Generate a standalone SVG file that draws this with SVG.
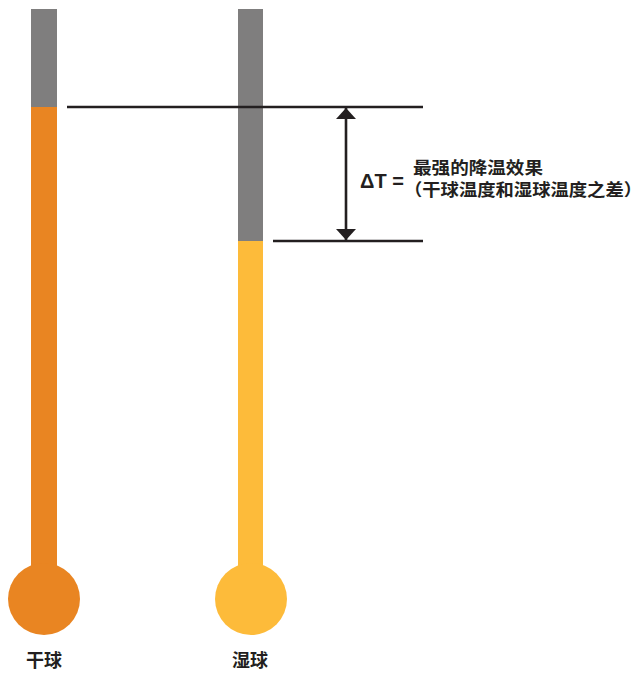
<svg xmlns="http://www.w3.org/2000/svg" width="633" height="673" viewBox="0 0 633 673">
<style>
.gray{fill:#7f7e7e}
.dry{fill:#e98522}
.wet{fill:#fdbb3a}
.ln{stroke:#231f20;stroke-width:2.6;fill:none}
.t{font-family:"Liberation Sans","Noto Sans CJK SC",sans-serif;font-weight:bold;fill:#231f20}
</style>
<defs>
<marker id="ah" viewBox="0 0 11 20" refX="11" refY="10" markerWidth="11" markerHeight="20" markerUnits="userSpaceOnUse" orient="auto-start-reverse">
<path d="M0,0 L11,10 L0,20 Z" fill="#231f20"/>
</marker>
</defs>
<rect width="633" height="673" fill="#fff"/>
<g id="dry-thermometer">
<rect class="gray" x="31" y="9" width="26" height="98"/>
<rect class="dry" x="31" y="107" width="26" height="470"/>
<circle class="dry" cx="44" cy="599" r="36"/>
<text class="t" x="44" y="667" font-size="18" text-anchor="middle">干球</text>
</g>
<g id="wet-thermometer">
<rect class="gray" x="238" y="9" width="25" height="232"/>
<rect class="wet" x="238" y="241" width="25" height="336"/>
<circle class="wet" cx="251" cy="599" r="36"/>
<text class="t" x="250" y="667" font-size="18" text-anchor="middle">湿球</text>
</g>
<g id="connectors">
<line class="ln" x1="67" y1="107" x2="423" y2="107"/>
<line class="ln" x1="273" y1="241" x2="423" y2="241"/>
<line class="ln" x1="346" y1="108" x2="346" y2="240" marker-start="url(#ah)" marker-end="url(#ah)"/>
</g>
<g id="label">
<text class="t" x="360" y="188" font-size="20">ΔT =</text>
<text class="t" x="413" y="174" font-size="17" textLength="130" lengthAdjust="spacingAndGlyphs">最强的降温效果</text>
<text class="t" x="404" y="196" font-size="17" textLength="238" lengthAdjust="spacingAndGlyphs">（干球温度和湿球温度之差）</text>
</g>
</svg>
